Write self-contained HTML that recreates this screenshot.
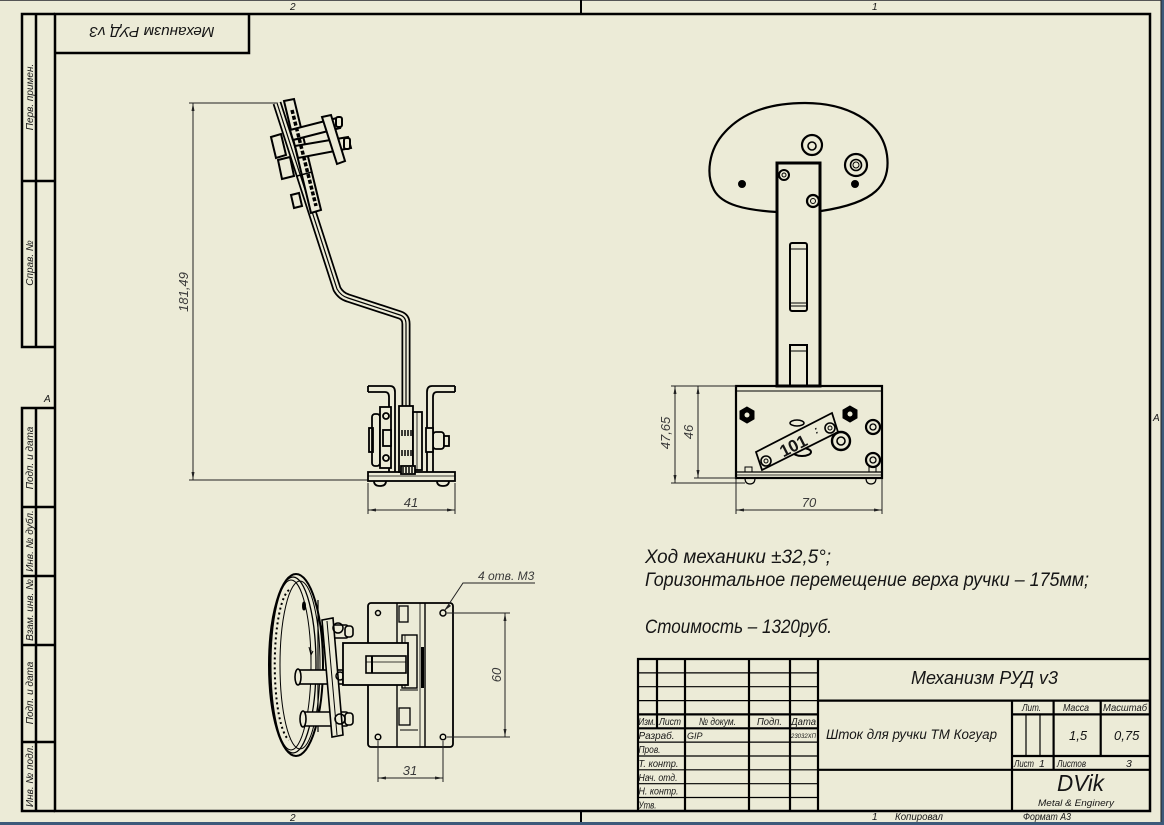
<!DOCTYPE html>
<html><head><meta charset="utf-8">
<style>
html,body{margin:0;padding:0;background:#3d5a7a;}
svg{display:block}
text{font-family:"Liberation Sans","DejaVu Sans",sans-serif;font-style:italic;fill:#151515}
.dim{fill:#3a3a3a}
</style></head><body>
<svg width="1164" height="825" viewBox="0 0 1164 825" xmlns="http://www.w3.org/2000/svg">
<rect x="0" y="0" width="1164" height="825" fill="#3d5a7a"/>
<rect x="0" y="0" width="1161.5" height="822" fill="#ecebd7"/>
<line x1="0" y1="0.5" x2="1161" y2="0.5" stroke="#555" stroke-width="1"/>
<line x1="1161" y1="0" x2="1161" y2="822" stroke="#222" stroke-width="1"/>

<!-- zone markers -->
<line x1="581" y1="0" x2="581" y2="14" stroke="#000" stroke-width="2"/>
<line x1="581" y1="811" x2="581" y2="822" stroke="#000" stroke-width="2"/>
<text x="290" y="10" font-size="10">2</text>
<text x="872" y="10" font-size="10">1</text>
<text x="290" y="821" font-size="10">2</text>
<text x="44" y="402" font-size="10">A</text>
<text x="1153" y="421" font-size="10">A</text>

<!-- main frame -->
<g stroke="#000" stroke-width="2.5" fill="none">
<rect x="55" y="14" width="1095" height="797"/>
<polyline points="249,14 249,53 55,53"/>
<polyline points="55,14 22,14 22,347 55,347"/>
<line x1="36" y1="14" x2="36" y2="347"/>
<line x1="22" y1="181" x2="55" y2="181"/>
<polyline points="55,408 22,408 22,811 55,811"/>
<line x1="36" y1="408" x2="36" y2="811"/>
<line x1="22" y1="507" x2="55" y2="507"/>
<line x1="22" y1="576" x2="55" y2="576"/>
<line x1="22" y1="645" x2="55" y2="645"/>
<line x1="22" y1="742" x2="55" y2="742"/>
</g>
<text transform="translate(152,27) rotate(180)" text-anchor="middle" font-size="15" textLength="125" lengthAdjust="spacingAndGlyphs">Механизм РУД v3</text>

<g font-size="10">
<text transform="translate(33,97) rotate(-90)" text-anchor="middle">Перв. примен.</text>
<text transform="translate(33,263) rotate(-90)" text-anchor="middle">Справ. №</text>
<text transform="translate(33,458) rotate(-90)" text-anchor="middle">Подп. и дата</text>
<text transform="translate(33,541) rotate(-90)" text-anchor="middle">Инв. № дубл.</text>
<text transform="translate(33,610) rotate(-90)" text-anchor="middle">Взам. инв. №</text>
<text transform="translate(33,693) rotate(-90)" text-anchor="middle">Подп. и дата</text>
<text transform="translate(33,776) rotate(-90)" text-anchor="middle">Инв. № подл.</text>
</g>

<!-- ============ SIDE VIEW ============ -->
<g fill="none" stroke="#000">
<g stroke="#222" stroke-width="1">
<line x1="189" y1="103" x2="280" y2="103"/>
<line x1="189" y1="480" x2="368" y2="480"/>
<line x1="193" y1="103" x2="193" y2="480"/>
<line x1="368" y1="483" x2="368" y2="514"/>
<line x1="455" y1="483" x2="455" y2="514"/>
<line x1="368" y1="510" x2="455" y2="510"/>
</g>
<g fill="#222" stroke="none">
<polygon points="193,103 191.5,111 194.5,111"/>
<polygon points="193,480 191.5,472 194.5,472"/>
<polygon points="368,510 376,508.5 376,511.5"/>
<polygon points="455,510 447,508.5 447,511.5"/>
</g>

<path d="M277 103 L337 289 Q341 296 348 298 L400 315 Q406 317 406 324 L406 470" stroke="#000" stroke-width="9" stroke-linejoin="round"/>
<path d="M277 103 L337 289 Q341 296 348 298 L400 315 Q406 317 406 324 L406 470" stroke="#ecebd7" stroke-width="5.5" stroke-linejoin="round"/>
<path d="M277 103 L337 289 Q341 296 348 298 L400 315 Q406 317 406 324 L406 470" stroke="#000" stroke-width="1.2" stroke-linejoin="round"/>

<g stroke-width="2" fill="#ecebd7">
<polygon points="284,101 294,99 321,210 311,213"/>
<polygon points="271,137 281,134 286,155 276,158"/>
<polygon points="278,160 290,157 294,176 282,179"/>
<polygon points="291,195 299,193 302,206 294,208"/>
<polygon points="290,130 337,118 340,128 293,140"/>
<polygon points="295,146 348,137 351,148 298,158"/>
<polygon points="322,117 331,115 345,161 337,164"/>
<rect x="336" y="117" width="6" height="10" rx="2"/>
<rect x="344" y="138" width="6" height="11" rx="2"/>
</g>
<line x1="292" y1="110" x2="316" y2="206" stroke-width="3.5" stroke-dasharray="4,2"/>
<line x1="297" y1="176" x2="312" y2="172" stroke-width="1.5"/>

<g stroke-width="1.8">
<path d="M368 386 L390 386 Q395 386 395 392 L395 472"/>
<path d="M368 392 L385 392 Q389 392 389 397 L389 472"/>
<line x1="368" y1="386" x2="368" y2="392"/>
<path d="M455 386 L432 386 Q427 386 427 392 L427 472"/>
<path d="M455 392 L437 392 Q433 392 433 397 L433 472"/>
<line x1="455" y1="386" x2="455" y2="392"/>
<rect x="368" y="472" width="87" height="9"/>
<line x1="368" y1="476" x2="455" y2="476" stroke-width="0.8"/>
<path d="M374 481 Q374 486 380 486 Q386 486 386 481"/>
<path d="M437 481 Q437 486 443 486 Q449 486 449 481"/>
<rect x="372" y="414" width="8" height="52" rx="3" fill="#ecebd7"/>
<rect x="380" y="407" width="11" height="61" fill="#ecebd7"/>
<rect x="383" y="430" width="8" height="16" fill="#ecebd7"/>
<circle cx="386" cy="416" r="3"/>
<circle cx="386" cy="458" r="3"/>
<rect x="399" y="406" width="14" height="66" fill="#ecebd7"/>
<rect x="413" y="412" width="9" height="58" fill="#ecebd7"/>
<line x1="417" y1="412" x2="417" y2="470" stroke-width="0.8"/>
<rect x="433" y="432" width="11" height="17" rx="3" fill="#ecebd7"/>
<rect x="444" y="436" width="5" height="10" fill="#ecebd7"/>
<rect x="426" y="428" width="7" height="24" fill="#ecebd7"/>
<rect x="369" y="428" width="4" height="24"/>
<rect x="401" y="466" width="14" height="8" fill="#ecebd7"/>
</g>
<g stroke-width="1.5">
<line x1="402" y1="430" x2="402" y2="436"/><line x1="405" y1="430" x2="405" y2="436"/><line x1="408" y1="430" x2="408" y2="436"/><line x1="411" y1="430" x2="411" y2="436"/>
<line x1="402" y1="450" x2="402" y2="456"/><line x1="405" y1="450" x2="405" y2="456"/><line x1="408" y1="450" x2="408" y2="456"/><line x1="411" y1="450" x2="411" y2="456"/>
<line x1="403" y1="467" x2="403" y2="473"/><line x1="406" y1="467" x2="406" y2="473"/><line x1="409" y1="467" x2="409" y2="473"/><line x1="412" y1="467" x2="412" y2="473"/>
</g>
</g>
<text class="dim" transform="translate(188,292) rotate(-90)" text-anchor="middle" font-size="13">181,49</text>
<text class="dim" x="411" y="507" text-anchor="middle" font-size="13">41</text>

<!-- ============ FRONT VIEW ============ -->
<g fill="none" stroke="#000">
<path d="M777 212 C745 210 722 205 714 190 C706 175 708 150 725 132 C745 110 775 103 805 103 C845 103 882 120 887 155 C891 185 875 203 821 211" stroke-width="2.2"/>
<rect x="777" y="163" width="43" height="223" stroke-width="3" fill="#ecebd7"/>
<rect x="790" y="243" width="17" height="68" rx="2" stroke-width="2"/>
<line x1="790" y1="249" x2="807" y2="249" stroke-width="1"/>
<line x1="790" y1="303" x2="807" y2="303" stroke-width="1"/>
<line x1="790" y1="306" x2="807" y2="306" stroke-width="1"/>
<path d="M790 386 L790 345 L807 345 L807 386" stroke-width="2"/>
<line x1="790" y1="351" x2="807" y2="351" stroke-width="1"/>
<circle cx="784" cy="175" r="5" stroke-width="2"/><circle cx="784" cy="175" r="2"/>
<circle cx="813" cy="201" r="6" stroke-width="2.2"/><circle cx="813" cy="201" r="2.5"/>
<circle cx="812" cy="145" r="10" stroke-width="2.2"/><circle cx="812" cy="146" r="4" stroke-width="1.6"/>
<circle cx="856" cy="165" r="11" stroke-width="2.2"/><circle cx="856" cy="165" r="5.5" stroke-width="1.6"/><circle cx="856" cy="165" r="3"/>
<circle cx="742" cy="184" r="3.5" fill="#000"/>
<circle cx="855" cy="184" r="3.5" fill="#000"/>

<rect x="736" y="386" width="146" height="92" stroke-width="2.2"/>
<line x1="736" y1="391" x2="882" y2="391" stroke-width="1"/>
<line x1="736" y1="472" x2="882" y2="472" stroke-width="1.2"/>
<line x1="736" y1="475" x2="882" y2="475" stroke-width="0.8"/>
<path d="M745 478 Q745 484 750 484 Q755 484 755 478" stroke-width="1.2"/>
<path d="M866 478 Q866 484 871 484 Q876 484 876 478" stroke-width="1.2"/>
<rect x="745" y="467" width="7" height="5" stroke-width="1"/>
<rect x="869" y="467" width="7" height="5" stroke-width="1"/>

<polygon points="747,407 754,411 754,419 747,423 740,419 740,411" fill="#000"/>
<circle cx="747" cy="415" r="2.5" fill="#ecebd7" stroke="none"/>
<polygon points="850,406 857,410 857,418 850,422 843,418 843,410" fill="#000"/>
<circle cx="850" cy="414" r="2.5" fill="#ecebd7" stroke="none"/>
<circle cx="873" cy="427" r="7" stroke-width="2.2"/><circle cx="873" cy="427" r="3" stroke-width="1.3"/>
<circle cx="873" cy="460" r="7" stroke-width="2.2"/><circle cx="873" cy="460" r="3" stroke-width="1.3"/>
<ellipse cx="802" cy="452" rx="9" ry="4" stroke-width="2"/>
<ellipse cx="797" cy="423" rx="7" ry="3" stroke-width="1.5"/>
<polygon points="756,452 832,413 838,432 762,470" fill="#ecebd7" stroke-width="1.8"/>
<circle cx="841" cy="441" r="9" stroke-width="2.4" fill="#ecebd7"/><circle cx="841" cy="441" r="4" stroke-width="1.6"/>
<circle cx="766" cy="461" r="5" stroke-width="1.6"/><circle cx="766" cy="461" r="2"/>
<circle cx="830" cy="428" r="5" stroke-width="1.6"/><circle cx="830" cy="428" r="2"/>
<g stroke="#222" stroke-width="1">
<line x1="675" y1="386" x2="675" y2="483"/>
<line x1="698" y1="386" x2="698" y2="478"/>
<line x1="671" y1="386" x2="736" y2="386"/>
<line x1="694" y1="478" x2="736" y2="478"/>
<line x1="671" y1="483" x2="745" y2="483"/>
<line x1="736" y1="479" x2="736" y2="514"/>
<line x1="882" y1="479" x2="882" y2="514"/>
<line x1="736" y1="510" x2="882" y2="510"/>
</g>
</g>
<g fill="#222">
<polygon points="675,386 673.5,394 676.5,394"/>
<polygon points="675,483 673.5,475 676.5,475"/>
<polygon points="698,386 696.5,394 699.5,394"/>
<polygon points="698,478 696.5,470 699.5,470"/>
<polygon points="736,510 744,508.5 744,511.5"/>
<polygon points="882,510 874,508.5 874,511.5"/>
</g>
<text transform="translate(796,451) rotate(-27)" text-anchor="middle" font-size="17" font-weight="bold" style="font-style:normal">101</text>
<text transform="translate(816,434) rotate(-27)" font-size="11" font-weight="bold">:</text>
<text class="dim" transform="translate(670,433) rotate(-90)" text-anchor="middle" font-size="13">47,65</text>
<text class="dim" transform="translate(693,432) rotate(-90)" text-anchor="middle" font-size="13">46</text>
<text class="dim" x="809" y="507" text-anchor="middle" font-size="13">70</text>

<!-- ============ BOTTOM VIEW ============ -->
<g fill="none" stroke="#000">
<ellipse cx="296" cy="665" rx="27" ry="91" stroke-width="2"/>
<ellipse cx="293" cy="665" rx="23" ry="88" stroke-width="1.3"/>
<ellipse cx="291" cy="665" rx="20" ry="85" stroke-width="1"/>
<ellipse cx="300" cy="665" rx="20" ry="84" stroke-width="1"/>
<path d="M289 590 A17 76 0 0 0 289 740" stroke-width="2" stroke-dasharray="2,3"/>
<line x1="318" y1="600" x2="318" y2="732" stroke-width="1.2"/>
<ellipse cx="304" cy="606" rx="1.5" ry="4" fill="#000"/>
<path d="M309 647 L311 655 L313 651" stroke-width="1"/>
<line x1="311" y1="650" x2="311" y2="676" stroke-width="1"/>
<rect x="322" y="625" width="26" height="13" rx="2" stroke-width="1.6" fill="#ecebd7"/>
<rect x="345" y="626" width="8" height="11" rx="3" stroke-width="1.6" fill="#ecebd7"/>
<rect x="298" y="670" width="45" height="14" stroke-width="1.6" fill="#ecebd7"/>
<ellipse cx="298" cy="677" rx="3" ry="8" stroke-width="1.6" fill="#ecebd7"/>
<rect x="303" y="712" width="45" height="14" rx="2" stroke-width="1.6" fill="#ecebd7"/>
<rect x="345" y="713" width="8" height="12" rx="3" stroke-width="1.6" fill="#ecebd7"/>
<ellipse cx="303" cy="719" rx="3" ry="8" stroke-width="1.6" fill="#ecebd7"/>
<polygon points="322,620 333,618 343,735 332,737" stroke-width="1.6" fill="#ecebd7"/>
<line x1="327" y1="621" x2="337" y2="735" stroke-width="1"/>
<circle cx="338" cy="628" r="5" stroke-width="1.5"/>
<circle cx="340" cy="676" r="4" stroke-width="1.5"/>
<circle cx="340" cy="719" r="5" stroke-width="1.5"/>
<rect x="368" y="603" width="85" height="144" rx="3" stroke-width="1.8" fill="#ecebd7"/>
<line x1="397" y1="603" x2="397" y2="747" stroke-width="1.4"/>
<line x1="425" y1="603" x2="425" y2="747" stroke-width="1.4"/>
<line x1="420" y1="603" x2="420" y2="747" stroke-width="0.8"/>
<rect x="399" y="606" width="9" height="16" stroke-width="1.3"/>
<rect x="399" y="708" width="11" height="17" stroke-width="1.3"/>
<rect x="402" y="635" width="15" height="53" stroke-width="1.4"/>
<line x1="405" y1="635" x2="405" y2="688" stroke-width="0.8"/>
<line x1="422.5" y1="647" x2="422.5" y2="688" stroke-width="3"/>
<line x1="400" y1="690" x2="418" y2="690" stroke-width="1"/>
<line x1="400" y1="730" x2="418" y2="730" stroke-width="1"/>
<rect x="343" y="643" width="65" height="42" stroke-width="1.8" fill="#ecebd7"/>
<rect x="366" y="656" width="40" height="17" stroke-width="1.6"/>
<line x1="372" y1="656" x2="372" y2="673" stroke-width="2"/>
<line x1="366" y1="662" x2="406" y2="662" stroke-width="0.8"/>
<circle cx="378" cy="613" r="2.5" stroke-width="1.5"/>
<circle cx="443" cy="613" r="3" stroke-width="1.5"/>
<circle cx="378" cy="737" r="2.8" stroke-width="1.5"/>
<circle cx="443" cy="737" r="2.8" stroke-width="1.5"/>
<g stroke="#222" stroke-width="1">
<polyline points="445,610 463,583 535,583"/>
<line x1="447" y1="613" x2="510" y2="613"/>
<line x1="447" y1="737" x2="510" y2="737"/>
<line x1="505" y1="613" x2="505" y2="737"/>
<line x1="378" y1="741" x2="378" y2="782"/>
<line x1="443" y1="741" x2="443" y2="782"/>
<line x1="378" y1="778" x2="443" y2="778"/>
</g>
</g>
<g fill="#222">
<polygon points="444,611 449,604 451,606"/>
<polygon points="505,613 503.5,621 506.5,621"/>
<polygon points="505,737 503.5,729 506.5,729"/>
<polygon points="378,778 386,776.5 386,779.5"/>
<polygon points="443,778 435,776.5 435,779.5"/>
</g>
<text class="dim" x="478" y="580" font-size="12">4 отв. М3</text>
<text class="dim" transform="translate(501,675) rotate(-90)" text-anchor="middle" font-size="13">60</text>
<text class="dim" x="410" y="775" text-anchor="middle" font-size="13">31</text>

<!-- notes -->
<g font-size="19">
<text x="645" y="563" textLength="186" lengthAdjust="spacingAndGlyphs">Ход механики ±32,5°;</text>
<text x="645" y="586" textLength="444" lengthAdjust="spacingAndGlyphs">Горизонтальное перемещение верха ручки – 175мм;</text>
<text x="645" y="633" textLength="187" lengthAdjust="spacingAndGlyphs">Стоимость – 1320руб.</text>
</g>

<!-- ============ TITLE BLOCK ============ -->
<g stroke="#000" fill="none">
<g stroke-width="2.2">
<polyline points="638,811 638,659 1150,659"/>
<line x1="657" y1="659" x2="657" y2="728"/>
<line x1="685" y1="659" x2="685" y2="811"/>
<line x1="749" y1="659" x2="749" y2="811"/>
<line x1="790" y1="659" x2="790" y2="811"/>
<line x1="818" y1="659" x2="818" y2="811"/>
<line x1="818" y1="700.6" x2="1150" y2="700.6"/>
<line x1="818" y1="769.8" x2="1150" y2="769.8"/>
<line x1="1012" y1="700.6" x2="1012" y2="811"/>
<line x1="1053.6" y1="700.6" x2="1053.6" y2="769.8"/>
<line x1="1100.7" y1="700.6" x2="1100.7" y2="756"/>
<line x1="1012" y1="714.4" x2="1150" y2="714.4"/>
<line x1="1012" y1="756" x2="1150" y2="756"/>
<line x1="638" y1="714.4" x2="818" y2="714.4"/>
<line x1="638" y1="728.3" x2="818" y2="728.3"/>
</g>
<g stroke-width="1.2">
<line x1="638" y1="672.9" x2="818" y2="672.9"/>
<line x1="638" y1="686.7" x2="818" y2="686.7"/>
<line x1="638" y1="700.6" x2="818" y2="700.6"/>
<line x1="638" y1="742.1" x2="818" y2="742.1"/>
<line x1="638" y1="756" x2="818" y2="756"/>
<line x1="638" y1="769.8" x2="818" y2="769.8"/>
<line x1="638" y1="783.7" x2="818" y2="783.7"/>
<line x1="638" y1="797.5" x2="818" y2="797.5"/>
<line x1="1026" y1="714.4" x2="1026" y2="756"/>
<line x1="1040" y1="714.4" x2="1040" y2="756"/>
</g>
</g>
<g font-size="10.5">
<text x="638.5" y="725" textLength="17" lengthAdjust="spacingAndGlyphs">Изм.</text>
<text x="659" y="725" textLength="22" lengthAdjust="spacingAndGlyphs">Лист</text>
<text x="699" y="725" textLength="37" lengthAdjust="spacingAndGlyphs">№ докум.</text>
<text x="757" y="725" textLength="25" lengthAdjust="spacingAndGlyphs">Подп.</text>
<text x="791" y="725" textLength="25" lengthAdjust="spacingAndGlyphs">Дата</text>
<text x="638.5" y="739" textLength="36" lengthAdjust="spacingAndGlyphs">Разраб.</text>
<text x="687" y="739" font-size="9">GIP</text>
<text x="791" y="738" font-size="6" textLength="25" lengthAdjust="spacingAndGlyphs">23032XП</text>
<text x="638.5" y="753" textLength="22" lengthAdjust="spacingAndGlyphs">Пров.</text>
<text x="638.5" y="767" textLength="40" lengthAdjust="spacingAndGlyphs">Т. контр.</text>
<text x="638.5" y="781" textLength="39" lengthAdjust="spacingAndGlyphs">Нач. отд.</text>
<text x="638.5" y="794.5" textLength="40" lengthAdjust="spacingAndGlyphs">Н. контр.</text>
<text x="638.5" y="808.5" textLength="18" lengthAdjust="spacingAndGlyphs">Утв.</text>
<text x="1022" y="711" textLength="19" lengthAdjust="spacingAndGlyphs">Лит.</text>
<text x="1063" y="711" textLength="26" lengthAdjust="spacingAndGlyphs">Масса</text>
<text x="1103" y="711" textLength="44" lengthAdjust="spacingAndGlyphs">Масштаб</text>
<text x="1014" y="767" textLength="20" lengthAdjust="spacingAndGlyphs">Лист</text>
<text x="1039" y="767">1</text>
<text x="1057" y="767" textLength="29" lengthAdjust="spacingAndGlyphs">Листов</text>
<text x="1126" y="767">3</text>
</g>
<text x="1069" y="740" font-size="13">1,5</text>
<text x="1114" y="740" font-size="13">0,75</text>
<text x="911" y="684" font-size="18" textLength="147" lengthAdjust="spacingAndGlyphs">Механизм РУД v3</text>
<text x="826" y="739" font-size="13.5" textLength="171" lengthAdjust="spacingAndGlyphs">Шток для ручки ТМ Когуар</text>
<text x="1057" y="791" font-size="23" textLength="47" lengthAdjust="spacingAndGlyphs">DVik</text>
<text x="1038" y="806" font-size="9" textLength="76" lengthAdjust="spacingAndGlyphs">Metal &amp; Enginery</text>
<text x="872" y="820" font-size="10">1</text>
<text x="895" y="820" font-size="10" textLength="48" lengthAdjust="spacingAndGlyphs">Копировал</text>
<text x="1023" y="820" font-size="10" textLength="48" lengthAdjust="spacingAndGlyphs">Формат А3</text>
</svg>
</body></html>
